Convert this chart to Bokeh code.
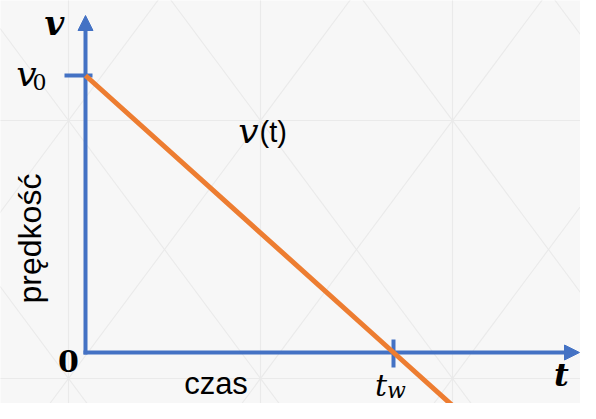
import math
from bokeh.plotting import figure
from bokeh.models import Range1d, Arrow, NormalHead
from bokeh.core.properties import value
from bokeh.embed import file_html
from bokeh.resources import INLINE

# ---- chart values ----
t_values = [0.0, 4.0, 5.0]      # czas
v_values = [4.0, 0.0, -1.0]     # prędkość v(t) = v0 - a t
v0 = 4.0
t_w = 4.0
y_label = "prędkość"
x_label = "czas"
curve_label_var = "v"
curve_label_arg = "(t)"
v_axis_name = "v"
t_axis_name = "t"
v0_main, v0_sub = "v", "0"
tw_main, tw_sub = "t", "w"
origin_label = "0"

BLUE = "#4472C4"
ORANGE = "#ED7D31"
BG = "#f7f7f7"
GRIDC = "#eaeaea"

# pixel scale (picture coordinates) -> data
OX, OY = 85.0, 352.0
UX = (393.0 - OX) / t_w
UY = (OY - 75.0) / v0


def X(px):
    return (px - OX) / UX


def Y(py):
    return (OY - py) / UY


W, H = 580, 403
p = figure(width=W, height=H, x_range=Range1d(X(0), X(W)), y_range=Range1d(Y(H), Y(0)),
           output_backend="svg", toolbar_location=None, min_border=0)
p.axis.visible = False
p.grid.visible = False
p.background_fill_color = BG
p.border_fill_color = BG
p.outline_line_color = None
p.min_border_left = p.min_border_right = p.min_border_top = p.min_border_bottom = 0

# ---- faint diamond background pattern ----
gx0, gx1, gy0, gy1 = [], [], [], []
for k in range(-1, 5):
    px = 68 + 192 * k
    gx0.append(X(px)); gx1.append(X(px)); gy0.append(Y(-50)); gy1.append(Y(500))
for m in range(-1, 3):
    py = 120 + 258 * m
    gx0.append(X(-50)); gx1.append(X(700)); gy0.append(Y(py)); gy1.append(Y(py))
s = 258.0 / 192.0
for k in range(-5, 8):
    bx = 68 + 192 * k
    for sign in (1, -1):
        ya, yb = -300, 700
        gx0.append(X(bx + sign * (ya - 120) / s)); gy0.append(Y(ya))
        gx1.append(X(bx + sign * (yb - 120) / s)); gy1.append(Y(yb))
p.segment(gx0, gy0, gx1, gy1, line_color=GRIDC, line_width=1.1, level="image")

# ---- axes with arrow heads ----
p.add_layout(Arrow(end=NormalHead(size=15, fill_color=BLUE, line_color=BLUE, line_width=1),
                   x_start=0, y_start=Y(OY + 2), x_end=0, y_end=Y(15),
                   line_color=BLUE, line_width=4, level="underlay"))
p.add_layout(Arrow(end=NormalHead(size=15, fill_color=BLUE, line_color=BLUE, line_width=1),
                   x_start=X(OX - 2), y_start=0, x_end=X(W - 1), y_end=0,
                   line_color=BLUE, line_width=4, level="underlay"))

# tick marks at v0 and t_w
p.segment(x0=[X(64), t_w], y0=[v0, Y(339)], x1=[X(92), t_w], y1=[v0, Y(367)],
          line_color=BLUE, line_width=4, level="underlay")

# ---- v(t) line ----
p.line(t_values, v_values, line_color=ORANGE, line_width=5)

K = 0.28  # empirical baseline correction (fraction of font size)


def label(px, py, txt, font, style, size, align="center", angle=0.0):
    if angle == 0.0:
        py = py - K * size
    else:
        px = px - K * size
    p.text(x=[X(px)], y=[Y(py)], text=[txt], text_font=value(font), text_font_style=style,
           text_font_size=f"{size}px", text_align=align, text_baseline="alphabetic",
           text_color="black", angle=angle)


SERIF = "DejaVu Serif"
SANS = "Liberation Sans"
label(54, 32, v_axis_name, SERIF, "bold italic", 34)
label(26, 83, v0_main, SERIF, "italic", 36)
label(39, 88, v0_sub, SERIF, "normal", 22)
label(248, 140, curve_label_var, SERIF, "italic", 36)
label(259, 140, curve_label_arg, SANS, "normal", 29, align="left")
label(380.5, 393, tw_main, SERIF, "italic", 30)
label(396, 396, tw_sub, SERIF, "italic", 22)
label(561, 383, t_axis_name, SERIF, "bold italic", 32)
label(68, 369, origin_label, SERIF, "bold", 30)
label(215.5, 392, x_label, SANS, "normal", 31)
label(38, 238, y_label, SANS, "normal", 32, angle=math.pi / 2)

open("out.html", "w").write(file_html(p, INLINE))
